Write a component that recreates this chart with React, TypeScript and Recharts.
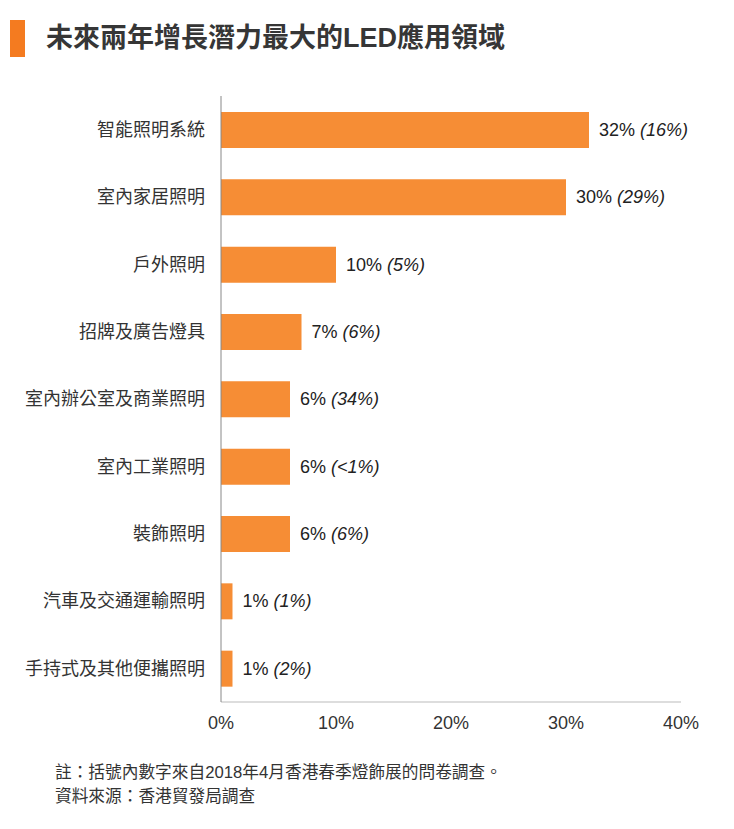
import React from "react";
import { BarChart, Bar, XAxis, YAxis, LabelList } from "recharts";

const categories = [
  "智能照明系統",
  "室內家居照明",
  "戶外照明",
  "招牌及廣告燈具",
  "室內辦公室及商業照明",
  "室內工業照明",
  "裝飾照明",
  "汽車及交通運輸照明",
  "手持式及其他便攜照明",
];
const shares = [32, 30, 10, 7, 6, 6, 6, 1, 1];
const surveyShares = ["16%", "29%", "5%", "6%", "34%", "<1%", "6%", "1%", "2%"];
const xTicks = [0, 10, 20, 30, 40];

const data = categories.map((c, i) => ({
  name: c,
  value: shares[i],
  labelText: `${shares[i]}%|${surveyShares[i]}`,
}));

const FONT = '"Liberation Sans", Arial, "Noto Sans CJK TC", sans-serif';
const BAR_COLOR = "#F68D35";
const TEXT = "#333333";

const renderLabel = (props: any) => {
  const { x, y, width, height, value } = props;
  const [main, paren] = String(value).split("|");
  return (
    <text
      x={Number(x) + Number(width) + 10}
      y={Number(y) + Number(height) / 2}
      dominantBaseline="central"
      fontSize={18}
      fill="#222"
      fontFamily={FONT}
    >
      <tspan>{main} </tspan>
      <tspan fontStyle="italic">({paren})</tspan>
    </text>
  );
};

export default function App() {
  return (
    <div
      style={{
        position: "absolute",
        left: 0,
        top: 0,
        width: 734,
        height: 829,
        background: "#fff",
        fontFamily: FONT,
        overflow: "hidden",
      }}
    >
      <div
        style={{
          position: "absolute",
          left: 10,
          top: 20,
          width: 15,
          height: 37,
          background: "#F47B20",
        }}
      />
      <div
        style={{
          position: "absolute",
          left: 46,
          top: 20,
          height: 36,
          lineHeight: "36px",
          fontSize: 27,
          fontWeight: "bold",
          color: "#363636",
          whiteSpace: "nowrap",
        }}
      >
        未來兩年增長潛力最大的LED應用領域
      </div>
      <div style={{ position: "absolute", left: 0, top: 0 }}>
        <BarChart
          width={734}
          height={829}
          data={data}
          layout="vertical"
          margin={{ top: 96, right: 53, bottom: 97, left: 0 }}
        >
          <XAxis
            type="number"
            domain={[0, 40]}
            ticks={xTicks}
            tickFormatter={(v: number) => `${v}%`}
            height={30}
            tickLine={false}
            tickSize={0}
            tickMargin={14}
            axisLine={{ stroke: "#bbbbbb", strokeWidth: 1 }}
            tick={{ fontSize: 18, fill: TEXT, fontFamily: FONT }}
            interval={0}
          />
          <YAxis
            type="category"
            dataKey="name"
            width={221}
            tickLine={false}
            tickSize={0}
            tickMargin={16}
            axisLine={{ stroke: "#888888", strokeWidth: 1 }}
            tick={{ fontSize: 18, fill: TEXT, fontFamily: FONT }}
            interval={0}
          />
          <Bar dataKey="value" fill={BAR_COLOR} barSize={36} isAnimationActive={false}>
            <LabelList dataKey="labelText" content={renderLabel} />
          </Bar>
        </BarChart>
      </div>
      <div
        style={{
          position: "absolute",
          left: 55,
          top: 761,
          fontSize: 16.7,
          lineHeight: "24px",
          color: TEXT,
          whiteSpace: "nowrap",
        }}
      >
        <div>註：括號內數字來自2018年4月香港春季燈飾展的問卷調查。</div>
        <div>資料來源：香港貿發局調查</div>
      </div>
    </div>
  );
}
